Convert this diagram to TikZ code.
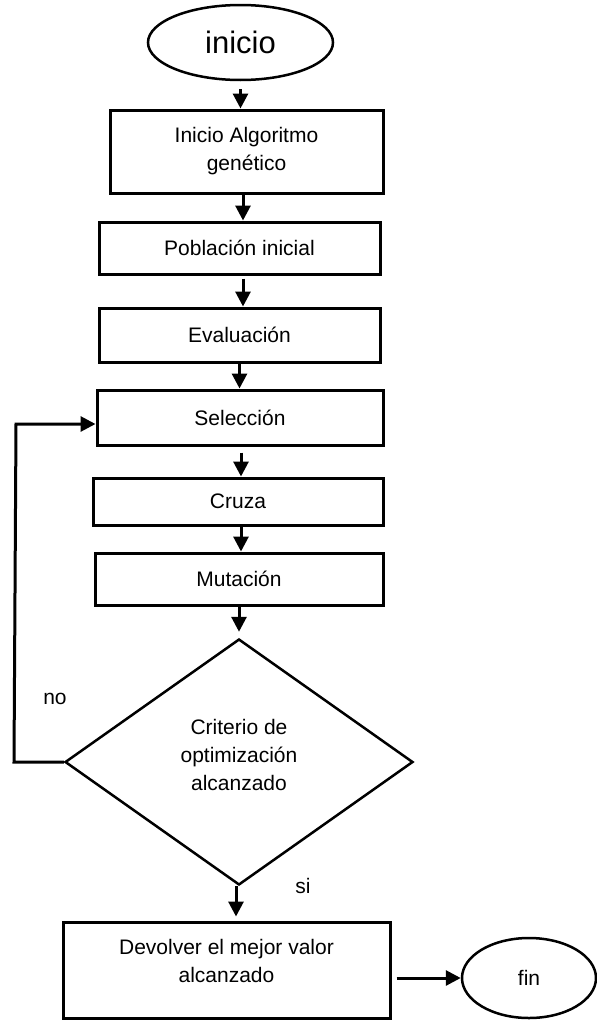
\documentclass[tikz,border=0pt]{standalone}
\usepackage{fontspec}
\setmainfont{Liberation Sans}
\usetikzlibrary{shapes.geometric,arrows.meta}
\newcommand\flowfont{\fontsize{21}{28}\selectfont}
\begin{document}
\begin{tikzpicture}[x=1pt,y=-1pt,
  box/.style={draw, rectangle, line width=3pt, inner sep=0pt, align=center, font=\flowfont},
  term/.style={draw, ellipse, line width=2.5pt, inner sep=0pt, font=\flowfont},
  decision/.style={draw, diamond, line width=2.5pt, inner sep=0pt},
  arr/.style={line width=3pt, -{Triangle[length=15pt,width=15pt]}},
  lbl/.style={font=\flowfont}]
\useasboundingbox (0,0) rectangle (597,1020);

% terminals
\node[term, minimum width=185pt, minimum height=75pt, font=\fontsize{31}{34}\selectfont] (ini) at (240.5,42.5) {inicio};
\node[term, minimum width=134pt, minimum height=80pt] (fin) at (529,978) {fin};

% process steps
\node[box, minimum width=273pt, minimum height=83pt] (b1) at (246.5,151.5) {Inicio Algoritmo\\genético};
\node[box, minimum width=281pt, minimum height=52pt] (b2) at (239.5,248) {Población inicial};
\node[box, minimum width=281pt, minimum height=54pt] (b3) at (239.5,335) {Evaluación};
\node[box, minimum width=286pt, minimum height=55pt] (b4) at (240,417.5) {Selección};
\node[box, minimum width=290pt, minimum height=47pt] (b5) at (238,501.5) {Cruza};
\node[box, minimum width=288pt, minimum height=52pt] (b6) at (239,579) {Mutación};

% decision
\node[decision, minimum width=348pt, minimum height=246pt,
  label={[name=dt, align=center, font=\flowfont, yshift=7pt]center:Criterio de\\optimización\\alcanzado}] (d) at (239,762) {};

% result
\node[box, minimum width=327pt, minimum height=96pt,
  label={[name=b7t, align=center, font=\flowfont, yshift=9pt]center:Devolver el mejor valor\\alcanzado}] (b7) at (226.5,970) {};

% branch labels
\node[lbl] (no) at (55,699) {no};
\node[lbl] (si) at (303,886) {si};

% main flow
\draw[arr, shorten <=8pt] (ini.south) -- (ini.south |- b1.north);
\draw[arr] (b1.south -| 243,0) -- (b2.north -| 243,0);
\draw[arr, shorten <=3pt] (b2.south -| 243,0) -- (b3.north -| 243,0);
\draw[arr] (b3.south) -- (b3.south |- b4.north);
\draw[arr, shorten <=6pt] (b4.south -| 241,0) -- (b5.north -| 241,0);
\draw[arr] (b5.south -| 241,0) -- (b6.north -| 241,0);
\draw[arr, shorten >=6pt] (b6.south -| d.north) -- (d.north);
\draw[arr, shorten >=4pt] (d.south -| 236,0) -- (b7.north -| 236,0);

% loop back when the criterion is not met
\coordinate (lb) at (14,762);
\coordinate (lt) at (16,424);
\draw[arr] (d.west) -- (lb) -- (lt) -- (b4.west |- lt);

% finish
\draw[arr, shorten <=5pt] (b7.east |- fin.west) -- (fin.west);
\end{tikzpicture}
\end{document}
